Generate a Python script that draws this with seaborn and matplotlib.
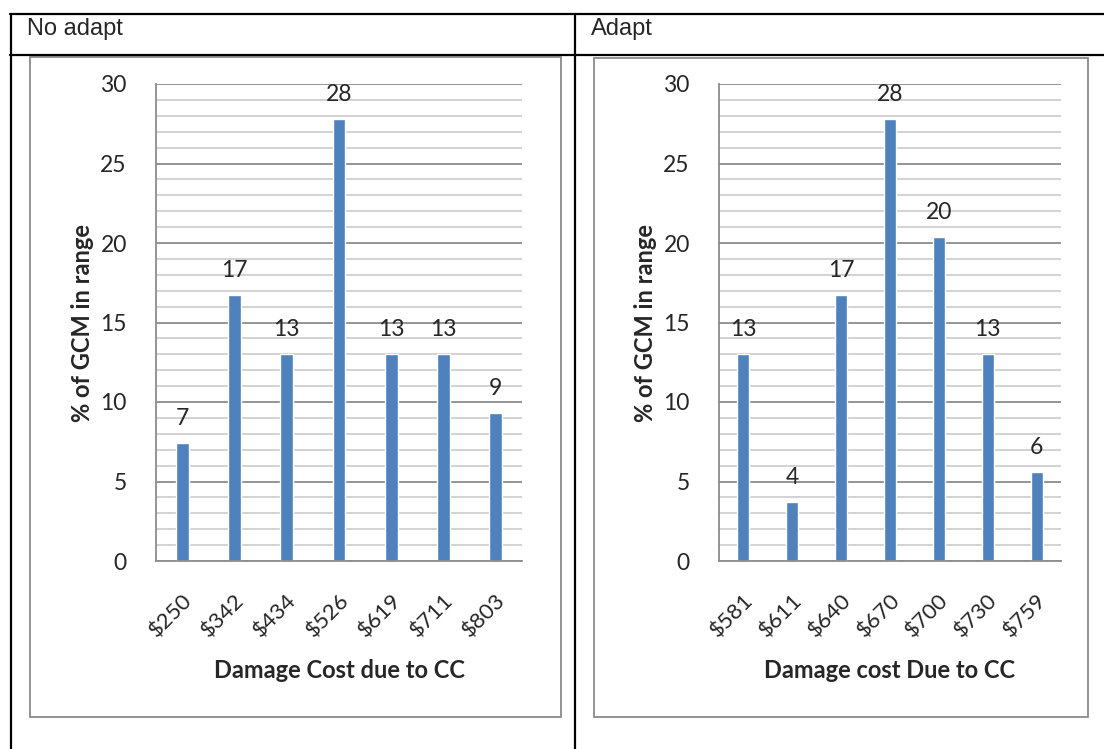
import matplotlib
matplotlib.use("Agg")
import matplotlib.pyplot as plt
from matplotlib.lines import Line2D
from matplotlib.patches import Rectangle
from matplotlib.ticker import MultipleLocator
import pandas as pd
import seaborn as sns

# data (% of GCMs per damage-cost bin)
no_adapt_bins = ["$250", "$342", "$434", "$526", "$619", "$711", "$803"]
no_adapt_pct = [7.4, 16.7, 13.0, 27.8, 13.0, 13.0, 9.3]
adapt_bins = ["$581", "$611", "$640", "$670", "$700", "$730", "$759"]
adapt_pct = [13.0, 3.7, 16.7, 27.8, 20.4, 13.0, 5.6]

headers = ["No adapt", "Adapt"]
xlabels = ["Damage Cost due to CC", "Damage cost Due to CC"]
ylabel = "% of GCM in range"

W, H = 1104, 749
BAR = "#4F81BD"
GRID_MAJ = "#8c8c8c"
GRID_MIN = "#cfcfcf"

sns.set_style("white")
plt.rcParams["font.family"] = ["Lato", "DejaVu Sans"]


def px(x0, y0, x1, y1):
    # pixel box (top-left origin) -> figure fraction [left, bottom, width, height]
    return [x0 / W, 1 - y1 / H, (x1 - x0) / W, (y1 - y0) / H]


fig = plt.figure(figsize=(W / 100, H / 100), dpi=100)

# table lines around the two cells
for (xa, ya, xb, yb) in [(10, 14, W, 14), (10, 55, W, 55), (11, 14, 11, H), (575, 14, 575, H)]:
    fig.add_artist(Line2D([xa / W, xb / W], [1 - ya / H, 1 - yb / H], color="black", lw=1.6))

fig.text(27 / W, 1 - 29 / H, headers[0], family="Liberation Sans", fontsize=17, va="center")
fig.text(591 / W, 1 - 29 / H, headers[1], family="Liberation Sans", fontsize=17, va="center")

# chart frames
for (x0, y0, x1, y1) in [(30, 57, 561, 717), (594, 58, 1088, 717)]:
    fig.add_artist(Rectangle((x0 / W, 1 - y1 / H), (x1 - x0) / W, (y1 - y0) / H,
                             fill=False, edgecolor="#8a8a8a", lw=1.3))

panels = [
    (no_adapt_bins, no_adapt_pct, xlabels[0], px(156, 84, 522, 561), -0.2),
    (adapt_bins, adapt_pct, xlabels[1], px(719, 84, 1061, 561), -0.215),
]

for bins, pct, xl, box, ylx in panels:
    ax = fig.add_axes(box)
    df = pd.DataFrame({"bin": bins, "pct": pct})
    sns.barplot(data=df, x="bin", y="pct", color=BAR, saturation=1, width=0.245, ax=ax)
    ax.set_xlim(-0.5, len(bins) - 0.5)
    ax.set_ylim(0, 30)
    ax.yaxis.set_major_locator(MultipleLocator(5))
    ax.yaxis.set_minor_locator(MultipleLocator(1))
    ax.set_axisbelow(True)
    ax.grid(which="minor", axis="y", color=GRID_MIN, lw=1.3)
    ax.grid(which="major", axis="y", color=GRID_MAJ, lw=1.3)
    for s in ["top", "right"]:
        ax.spines[s].set_visible(False)
    for s in ["left", "bottom"]:
        ax.spines[s].set_color(GRID_MAJ)
        ax.spines[s].set_linewidth(1.3)
    ax.tick_params(axis="y", which="major", length=8, width=1.3, color=GRID_MAJ,
                   labelsize=16.5, pad=13)
    ax.tick_params(axis="y", which="minor", length=0)
    ax.tick_params(axis="x", length=0, pad=21, labelsize=16)
    ax.set_xticks(range(len(bins)))
    ax.set_xticklabels(bins, rotation=45, ha="right", va="top", rotation_mode="anchor")

    for i, v in enumerate(pct):
        ax.annotate(f"{v:.0f}", (i, v), xytext=(0, 13), textcoords="offset points",
                    ha="center", va="baseline", fontsize=16.5)

    ax.set_ylabel(ylabel, fontsize=17, fontweight="bold")
    ax.yaxis.set_label_coords(ylx, 0.5)
    ax.yaxis.label.set_va("center")
    ax.set_xlabel(xl, fontsize=17, fontweight="bold")
    ax.xaxis.set_label_coords(0.5, -0.229)
    ax.xaxis.label.set_va("center")

fig.savefig("out.png", dpi=100)
